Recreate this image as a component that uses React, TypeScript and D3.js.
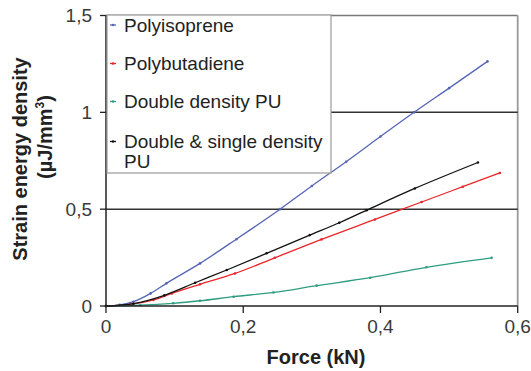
import React from "react";
import * as d3 from "d3";

const xTicks = [0, 0.2, 0.4, 0.6];
const yTicks = [0, 0.5, 1, 1.5];
const xTickLabels = ["0", "0,2", "0,4", "0,6"];
const yTickLabels = ["0", "0,5", "1", "1,5"];

const polyisopreneX = [0, 0.02, 0.04, 0.065, 0.088, 0.137, 0.19, 0.2536, 0.3, 0.35, 0.4, 0.449, 0.5, 0.556];
const polyisopreneY = [0, 0.006, 0.022, 0.065, 0.117, 0.22, 0.345, 0.5, 0.62, 0.745, 0.875, 1.0, 1.125, 1.263];

const polybutadieneX = [0, 0.035, 0.069, 0.096, 0.137, 0.188, 0.246, 0.314, 0.392, 0.46, 0.52, 0.574];
const polybutadieneY = [0, 0.008, 0.031, 0.065, 0.112, 0.168, 0.249, 0.344, 0.447, 0.537, 0.616, 0.687];

const doubleX = [0, 0.05, 0.098, 0.137, 0.186, 0.244, 0.307, 0.385, 0.467, 0.562];
const doubleY = [0, 0.004, 0.014, 0.027, 0.048, 0.07, 0.105, 0.146, 0.2, 0.249];

const doubleSingleX = [0, 0.04, 0.085, 0.13, 0.176, 0.234, 0.297, 0.34, 0.38, 0.45, 0.542];
const doubleSingleY = [0, 0.012, 0.055, 0.12, 0.186, 0.272, 0.366, 0.43, 0.495, 0.607, 0.741];

const seriesNames = ["Polyisoprene", "Polybutadiene", "Double density PU", "Double & single density PU"];
const seriesColors = ["#5565b5", "#e8262b", "#2e9c80", "#111111"];

const FONT = "'Liberation Sans', Arial, sans-serif";

export default function App() {
  const left = 106, right = 517.7, top = 15.5, bottom = 306;
  const x = d3.scaleLinear().domain([0, 0.6]).range([left, right]);
  const y = d3.scaleLinear().domain([0, 1.5]).range([bottom, top]);
  const line = d3.line<[number, number]>().x(d => x(d[0])).y(d => y(d[1])).curve(d3.curveMonotoneX);

  const series = [
    polyisopreneX.map((v, i) => [v, polyisopreneY[i]] as [number, number]),
    polybutadieneX.map((v, i) => [v, polybutadieneY[i]] as [number, number]),
    doubleX.map((v, i) => [v, doubleY[i]] as [number, number]),
    doubleSingleX.map((v, i) => [v, doubleSingleY[i]] as [number, number]),
  ];

  const legend = { x0: 107, y0: 15, x1: 331, y1: 173 };
  const legendBaselines = [31.5, 70, 108, 148];

  return (
    <div style={{ position: "absolute", left: 0, top: 0 }}>
      <svg width={531} height={371} style={{ display: "block", background: "#fff" }}>
        <line x1={left} x2={right} y1={y(1.5)} y2={y(1.5)} stroke="#777" strokeWidth={1.5} />
        <line x1={right} x2={right} y1={top} y2={bottom} stroke="#999" strokeWidth={1.8} />
        {[0.5, 1].map(v => (
          <line key={v} x1={left} x2={right} y1={y(v)} y2={y(v)} stroke="#333" strokeWidth={1.5} />
        ))}
        {series.map((s, i) => (
          <g key={i}>
            <path d={line(s) || ""} fill="none" stroke={seriesColors[i]} strokeWidth={1.3} />
            {s.map((p, j) => (
              <circle key={j} cx={x(p[0])} cy={y(p[1])} r={1.3} fill={seriesColors[i]} />
            ))}
          </g>
        ))}
        <line x1={left} x2={left} y1={top} y2={bottom} stroke="#222" strokeWidth={1.5} />
        <line x1={left} x2={right} y1={bottom} y2={bottom} stroke="#222" strokeWidth={1.5} />
        {yTicks.map((v, i) => (
          <g key={"y" + v}>
            <line x1={left - 6} x2={left} y1={y(v)} y2={y(v)} stroke="#222" strokeWidth={1.3} />
            <text x={92} y={y(v)} dy="0.35em" textAnchor="end" fontFamily={FONT} fontSize={19} fill="#3a3a3a">
              {yTickLabels[i]}
            </text>
          </g>
        ))}
        {xTicks.map((v, i) => (
          <g key={"x" + v}>
            <line x1={x(v)} x2={x(v)} y1={bottom} y2={bottom + 7} stroke="#222" strokeWidth={1.3} />
            <text x={x(v)} y={333} textAnchor="middle" fontFamily={FONT} fontSize={19} fill="#3a3a3a">
              {xTickLabels[i]}
            </text>
          </g>
        ))}
        <rect x={legend.x0} y={legend.y0} width={legend.x1 - legend.x0} height={legend.y1 - legend.y0}
          fill="#fff" stroke="#999" strokeWidth={1.2} />
        {seriesNames.map((name, i) => {
          const b = legendBaselines[i];
          const cy = b - 6.5;
          const words = i === 3 ? ["Double & single density", "PU"] : [name];
          return (
            <g key={name}>
              <line x1={110} x2={116} y1={cy} y2={cy} stroke={seriesColors[i]} strokeWidth={1.3} />
              <circle cx={113} cy={cy} r={1.2} fill={seriesColors[i]} />
              {words.map((w, k) => (
                <text key={k} x={124} y={b + k * 20} fontFamily={FONT} fontSize={19} fill="#222">{w}</text>
              ))}
            </g>
          );
        })}
        <text x={316} y={364} textAnchor="middle" fontFamily={FONT} fontSize={20} fontWeight="bold" fill="#222">
          Force (kN)
        </text>
        <text transform="translate(20,159) rotate(-90)" textAnchor="middle" dy="0.35em"
          fontFamily={FONT} fontSize={20} fontWeight="bold" fill="#222">
          Strain energy density
        </text>
        <text transform="translate(45,137) rotate(-90)" textAnchor="middle" dy="0.35em"
          fontFamily={FONT} fontSize={20} fontWeight="bold" fill="#222">
          (µJ/mm<tspan fontSize={12} dy="-8">3</tspan><tspan dy="8">)</tspan>
        </text>
      </svg>
    </div>
  );
}
